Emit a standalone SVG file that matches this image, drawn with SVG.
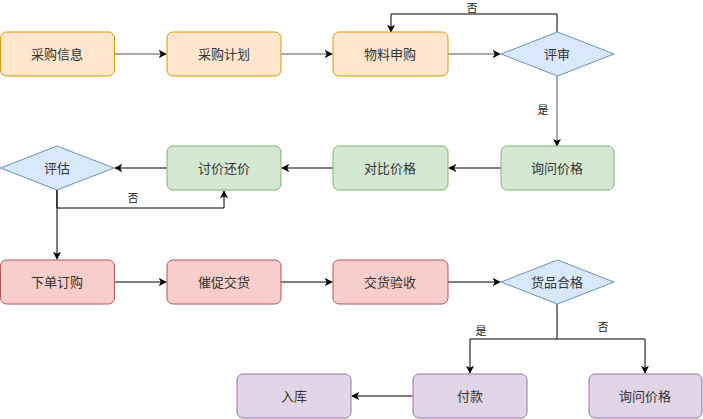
<svg xmlns="http://www.w3.org/2000/svg" width="703" height="419" viewBox="0 0 703 419">
<defs>
<style>
text{font-family:"Liberation Sans","Noto Sans CJK SC",sans-serif;fill:#333;text-anchor:middle;dominant-baseline:central}
.t{font-size:13px}
.l{font-size:11px;fill:#222}
.or{fill:#ffe6cc;stroke:#d79b00;stroke-width:1}
.gr{fill:#d5e8d4;stroke:#82b366;stroke-width:1}
.rd{fill:#f8cecc;stroke:#b85450;stroke-width:1}
.pu{fill:#e1d5e7;stroke:#9673a6;stroke-width:1}
.bl{fill:#dae8fc;stroke:#6c8ebf;stroke-width:1}
.c{fill:none;stroke:#000;stroke-width:1;marker-end:url(#a)}
.cg{fill:none;stroke:#555;stroke-width:1;marker-end:url(#a)}
</style>
<marker id="a" viewBox="0 0 10 10" refX="9" refY="5" markerWidth="8" markerHeight="8" markerUnits="userSpaceOnUse" orient="auto">
<path d="M0,0 L10,5 L0,10 L2.5,5 z" fill="#000"/>
</marker>
</defs>
<g id="connectors">
<path class="cg" d="M114,54 H166"/>
<path class="cg" d="M281,54 H332"/>
<path class="cg" d="M448,54 H500"/>
<path class="c" d="M557,32 V14 H391 V32"/>
<path class="cg" d="M557,76 V146"/>
<path class="c" d="M501,168 H449"/>
<path class="c" d="M333,168 H282"/>
<path class="c" d="M167,168 H115"/>
<path class="c" d="M57,190 V208 H224 V191"/>
<path class="c" d="M57,190 V259"/>
<path class="c" d="M114,282 H166"/>
<path class="c" d="M281,282 H332"/>
<path class="c" d="M448,282 H500"/>
<path class="c" d="M557,304 V339 H470 V373"/>
<path class="c" d="M557,339 H645 V373"/>
<path class="c" d="M413,396 H352"/>
<text class="l" x="472" y="8">否</text>
<text class="l" x="543" y="110">是</text>
<text class="l" x="133" y="198">否</text>
<text class="l" x="481" y="331">是</text>
<text class="l" x="603" y="327">否</text>
</g>
<g id="n1"><rect class="or" x="0.5" y="32" width="114" height="44" rx="6"/><text class="t" x="57" y="54">采购信息</text></g>
<g id="n2"><rect class="or" x="167" y="32" width="114" height="44" rx="6"/><text class="t" x="224" y="54">采购计划</text></g>
<g id="n3"><rect class="or" x="333" y="32" width="115" height="44" rx="6"/><text class="t" x="390" y="54">物料申购</text></g>
<g id="n4"><path class="bl" d="M501,54 L557.5,32 L614,54 L557.5,76 Z"/><text class="t" x="557" y="54">评审</text></g>
<g id="n5"><rect class="gr" x="501" y="146" width="113" height="44" rx="6"/><text class="t" x="557" y="168">询问价格</text></g>
<g id="n6"><rect class="gr" x="333" y="146" width="115" height="44" rx="6"/><text class="t" x="390" y="168">对比价格</text></g>
<g id="n7"><rect class="gr" x="167" y="146" width="114" height="44" rx="6"/><text class="t" x="224" y="168">讨价还价</text></g>
<g id="n8"><path class="bl" d="M0.5,168 L57,146 L114,168 L57,190 Z"/><text class="t" x="57" y="168">评估</text></g>
<g id="n9"><rect class="rd" x="0.5" y="260" width="114" height="44" rx="6"/><text class="t" x="57" y="282">下单订购</text></g>
<g id="n10"><rect class="rd" x="167" y="260" width="114" height="44" rx="6"/><text class="t" x="224" y="282">催促交货</text></g>
<g id="n11"><rect class="rd" x="333" y="260" width="115" height="44" rx="6"/><text class="t" x="390" y="282">交货验收</text></g>
<g id="n12"><path class="bl" d="M501,282 L557.5,260 L614,282 L557.5,304 Z"/><text class="t" x="557" y="282">货品合格</text></g>
<g id="n13"><rect class="pu" x="413" y="374" width="114" height="44" rx="6"/><text class="t" x="470" y="396">付款</text></g>
<g id="n14"><rect class="pu" x="589" y="374" width="113" height="44" rx="6"/><text class="t" x="645" y="396">询问价格</text></g>
<g id="n15"><rect class="pu" x="237" y="374" width="114" height="44" rx="6"/><text class="t" x="294" y="396">入库</text></g>
</svg>
